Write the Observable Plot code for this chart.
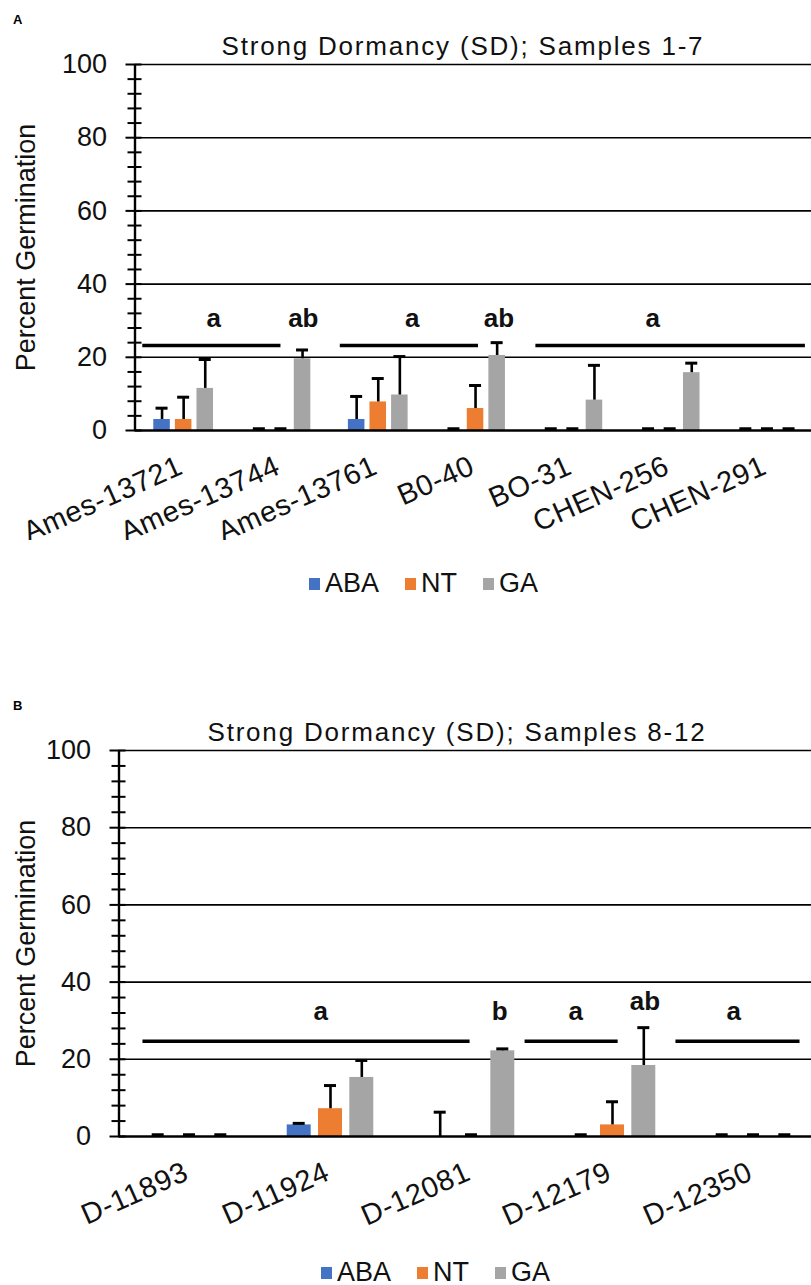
<!DOCTYPE html>
<html><head><meta charset="utf-8">
<script src="https://cdn.jsdelivr.net/npm/d3@7"></script>
<script src="https://cdn.jsdelivr.net/npm/@observablehq/plot@0.6"></script>
<style>
body{margin:0;background:#fff;font-family:"Liberation Sans",Arial,sans-serif;color:#000;}
#page{position:relative;width:811px;height:1285px;overflow:hidden;background:#fff;}
.plabel{position:absolute;left:13px;font-weight:bold;font-size:13px;z-index:2;}
.title{position:absolute;width:700px;text-align:center;font-size:26px;letter-spacing:1.8px;white-space:nowrap;line-height:1;z-index:2;color:#111;}
.legend{position:absolute;display:flex;align-items:center;font-size:27px;line-height:1;white-space:nowrap;z-index:2;color:#111;}
.legend span.sw{display:inline-block;width:11px;height:12px;margin-right:5px;}
.legend span.it{display:flex;align-items:center;margin-right:26px;}
svg{position:absolute;left:0;z-index:1;}
</style></head>
<body><div id="page"></div>
<script>
// ---------- data ----------
const series = ["ABA", "NT", "GA"];
const colors = ["#4472C4", "#ED7D31", "#A5A5A5"];
const yTicks = [0, 20, 40, 60, 80, 100];

// Panel A
const catsA = ["Ames-13721", "Ames-13744", "Ames-13761", "B0-40", "BO-31", "CHEN-256", "CHEN-291"];
const abaA = [3, 0, 3, 0, 0, 0, 0];
const abaErrA = [3.1, 0, 6.3, 0, 0, 0, 0];
const ntA = [3, 0, 7.8, 6, 0, 0, 0];
const ntErrA = [6.1, 0, 6.4, 6.3, 0, 0, 0];
const gaA = [11.5, 19.6, 9.7, 20.5, 8.3, 15.8, 0];
const gaErrA = [7.9, 2.4, 10.5, 3.5, 9.5, 2.6, 0];
const sigLinesA = [[-0.42, 1.0], [1.61, 3.03], [3.62, 6.39]];
const sigLineYA = 23.2;
const sigLabelsA = ["a", "ab", "a", "ab", "a"];
const sigLabelXA = [0.31, 1.23, 2.35, 3.24, 4.82];
const sigLabelYA = [30.5, 30.5, 30.5, 30.5, 30.5];

// Panel B
const catsB = ["D-11893", "D-11924", "D-12081", "D-12179", "D-12350"];
const abaB = [0, 3, 0, 0, 0];
const abaErrB = [0, 0.4, 6.3, 0, 0];
const ntB = [0, 7.2, 0, 3, 0];
const ntErrB = [0, 6, 0, 6, 0];
const gaB = [0, 15.3, 22.2, 18.4, 0];
const gaErrB = [0, 4.4, 0.5, 9.8, 0];
const sigLinesB = [[-0.33, 1.99], [2.38, 3.04], [3.45, 4.33]];
const sigLineYB = 24.7;
const sigLabelsB = ["a", "b", "a", "ab", "a"];
const sigLabelXB = [0.93, 2.2, 2.74, 3.23, 3.86];
const sigLabelYB = [32.3, 32.3, 32.3, 35, 32.3];

const titleA = "Strong Dormancy (SD); Samples 1-7";
const titleB = "Strong Dormancy (SD); Samples 8-12";
const yLabel = "Percent Germination";

// ---------- drawing ----------
const page = document.getElementById("page");

function panel(cfg) {
  const {cats, vals, errs, sigLines, sigLineY, sigLabels, sigLabelX, sigLabelY,
         top, left, band, plotH, marginTop, marginBottom} = cfg;
  const n = cats.length;
  const spacing = 0.222, bw = 0.17;
  const capHalf = 6 / band;
  const rows = [];
  cats.forEach((c, i) => {
    series.forEach((s, k) => {
      rows.push({i, s, cx: i + (k - 1) * spacing, v: vals[k][i], e: errs[k][i]});
    });
  });
  const zeroRows = rows.filter(d => d.v + d.e === 0);
  const capRows = rows.filter(d => d.v + d.e > 0);
  const minor = d3.range(0, 101, 4).filter(v => v % 20 !== 0);
  const height = marginTop + plotH + marginBottom;
  const svg = Plot.plot({
    width: 811,
    height,
    marginLeft: left,
    marginRight: 0,
    marginTop,
    marginBottom,
    style: {fontFamily: '"Liberation Sans", Arial, sans-serif', background: "none", overflow: "hidden"},
    x: {type: "linear", domain: [-0.5, n - 0.5], range: [left, left + n * band], axis: null},
    y: {domain: [0, 100], axis: null},
    color: {domain: series, range: colors},
    marks: [
      // gridlines
      Plot.ruleY(yTicks.filter(v => v > 0), {stroke: "#000", strokeWidth: 1.6}),
      // bars
      Plot.rectY(rows, {x1: d => d.cx - bw / 2, x2: d => d.cx + bw / 2, y: "v", fill: "s"}),
      // error bars
      Plot.ruleX(rows.filter(d => d.e > 0), {x: "cx", y1: "v", y2: d => d.v + d.e, stroke: "#000", strokeWidth: 2.6}),
      Plot.ruleY(capRows, {y: d => d.v + d.e, x1: d => d.cx - capHalf, x2: d => d.cx + capHalf, stroke: "#000", strokeWidth: 3}),
      // x axis line
      Plot.ruleY([0], {stroke: "#000", strokeWidth: 2.4}),
      // caps of zero values (sit on the axis)
      Plot.ruleY(zeroRows, {y: 0, x1: d => d.cx - capHalf, x2: d => d.cx + capHalf, dy: -1.5, stroke: "#000", strokeWidth: 3.5}),
      // y axis line and ticks
      Plot.ruleX([-0.5], {y1: 0, y2: 100, stroke: "#000", strokeWidth: 2.4}),
      Plot.ruleY(minor, {y: d => d, x1: -0.5 - 7 / band, x2: -0.5 + 7 / band, stroke: "#000", strokeWidth: 2}),
      Plot.ruleY(yTicks, {y: d => d, x1: -0.5 - 9 / band, x2: -0.5 + 7 / band, stroke: "#000", strokeWidth: 2}),
      Plot.text(yTicks, {y: d => d, text: d => String(d), frameAnchor: "left", textAnchor: "end", dx: -28, fontSize: 27, fill: "#111"}),
      Plot.text([yLabel], {frameAnchor: "left", textAnchor: "middle", rotate: -90, dx: -(left - 26), fontSize: 27, fill: "#111"}),
      // x tick labels
      Plot.text(cats, {x: (d, i) => i, y: 0, text: d => d, rotate: -24, textAnchor: "end", dx: -3, dy: 34, fontSize: 29, fill: "#111", ariaDescription: "xlabels"}),
      // significance
      Plot.ruleY(sigLines, {y: () => sigLineY, x1: d => d[0], x2: d => d[1], stroke: "#000", strokeWidth: 3.5}),
      Plot.text(sigLabels, {x: (d, i) => sigLabelX[i], y: (d, i) => sigLabelY[i], text: d => d, fontSize: 26, fontWeight: "bold", fill: "#111"})
    ]
  });
  d3.select(svg).selectAll('g[aria-description="xlabels"] text').style("letter-spacing", "0.6px");
  svg.style.top = top + "px";
  page.appendChild(svg);
}

function addDiv(cls, text, css) {
  const d = document.createElement("div");
  d.className = cls;
  d.textContent = text;
  Object.assign(d.style, css);
  page.appendChild(d);
  return d;
}

function legend(top, left) {
  const d = document.createElement("div");
  d.className = "legend";
  d.style.top = top + "px";
  d.style.left = left + "px";
  series.forEach((s, k) => {
    const it = document.createElement("span");
    it.className = "it";
    const sw = document.createElement("span");
    sw.className = "sw";
    sw.style.background = colors[k];
    it.appendChild(sw);
    it.appendChild(document.createTextNode(s));
    d.appendChild(it);
  });
  page.appendChild(d);
}

// Panel A
panel({cats: catsA, vals: [abaA, ntA, gaA], errs: [abaErrA, ntErrA, gaErrA],
  sigLines: sigLinesA, sigLineY: sigLineYA, sigLabels: sigLabelsA, sigLabelX: sigLabelXA, sigLabelY: sigLabelYA,
  top: 50, left: 134.5, band: 97.3, plotH: 366, marginTop: 14, marginBottom: 110});
addDiv("plabel", "A", {top: "12px"});
addDiv("title", titleA, {top: "33px", left: "113px"});
legend(570, 309);

// Panel B
panel({cats: catsB, vals: [abaB, ntB, gaB], errs: [abaErrB, ntErrB, gaErrB],
  sigLines: sigLinesB, sigLineY: sigLineYB, sigLabels: sigLabelsB, sigLabelX: sigLabelXB, sigLabelY: sigLabelYB,
  top: 735, left: 118.5, band: 141, plotH: 386, marginTop: 15, marginBottom: 110});
addDiv("plabel", "B", {top: "698px"});
addDiv("title", titleB, {top: "719px", left: "107px"});
legend(1259, 321);
</script>
</body></html>
